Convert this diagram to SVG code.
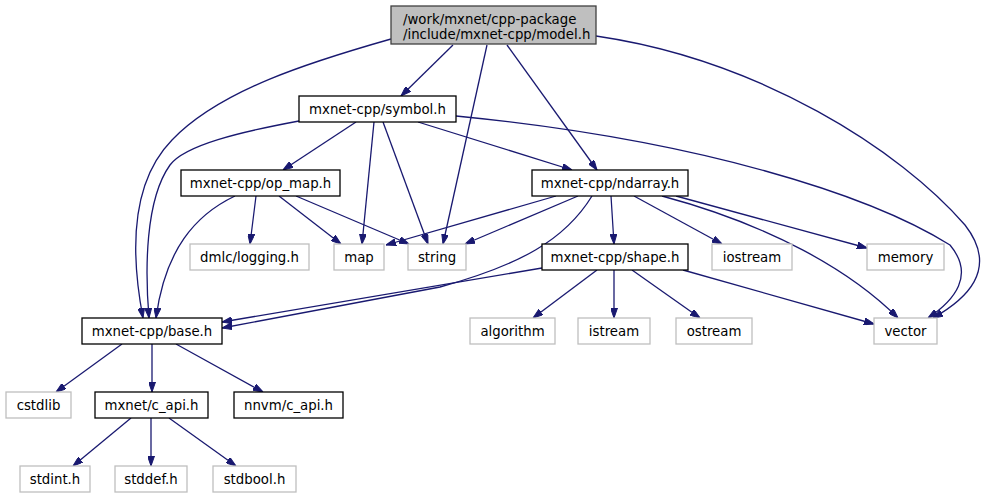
<svg xmlns="http://www.w3.org/2000/svg" width="988" height="500" viewBox="0 0 988 500">
<style>
text{font-family:"DejaVu Sans","Liberation Sans",sans-serif;font-size:13.3px;fill:#000;text-anchor:middle}
.n rect{fill:#fff;stroke:#000;stroke-width:1.3}
.x rect{fill:#fff;stroke:#bfbfbf;stroke-width:1.3}
.r rect{fill:#bfbfbf;stroke:#404040;stroke-width:1.3}
#edges path{fill:none;stroke:#191970;stroke-width:1.3;marker-end:url(#ah)}
</style>
<defs>
<marker id="ah" viewBox="0 0 10 7" refX="10" refY="3.5" markerWidth="10" markerHeight="7" markerUnits="userSpaceOnUse" orient="auto">
<path d="M0,0 L10,3.5 L0,7 z" fill="#191970" stroke="#191970"/>
</marker>
</defs>
<rect width="988" height="500" fill="#fff"/>
<g id="edges">
<path d="M453,45 L401,96"/>
<path d="M391,39 C310,62 220,90 172,140 C128,185 132,260 143,318"/>
<path d="M487,45 L443,244"/>
<path d="M507,45 L597,170"/>
<path d="M596,36 C760,60 900,150 965,225 C1000,270 965,300 933,318"/>
<path d="M299,121 C240,132 185,145 170,165 C145,200 145,270 149,318"/>
<path d="M356,122 L283,170"/>
<path d="M374,122 L362,244"/>
<path d="M383,122 L428,244"/>
<path d="M418,122 L572,170"/>
<path d="M456,116 C700,140 870,195 950,245 C975,275 955,300 928,318"/>
<path d="M235,196 C195,215 165,250 156,318"/>
<path d="M256,196 L250,244"/>
<path d="M279,196 L341,244"/>
<path d="M296,196 L409,244"/>
<path d="M592,196 C565,240 520,265 440,287 L222,328"/>
<path d="M556,196 L386,245"/>
<path d="M578,196 L465,244"/>
<path d="M611,196 L614,244"/>
<path d="M634,196 L722,244"/>
<path d="M676,196 L867,248"/>
<path d="M662,196 C770,225 850,270 898,318"/>
<path d="M542,268 L222,322"/>
<path d="M597,270 L533,318"/>
<path d="M614,270 L614,318"/>
<path d="M632,270 L700,318"/>
<path d="M683,270 L874,324"/>
<path d="M122,344 L56,392"/>
<path d="M152,344 L152,392"/>
<path d="M176,344 L263,392"/>
<path d="M131,418 L73,466"/>
<path d="M151,418 L151,466"/>
<path d="M169,418 L236,466"/>
</g>
<g id="model" class="r"><rect x="391" y="6" width="205" height="38"/><text x="403" y="24" style="text-anchor:start">/work/mxnet/cpp-package</text><text x="403" y="39" style="text-anchor:start">/include/mxnet-cpp/model.h</text></g>
<g id="symbol" class="n"><rect x="299" y="96" width="157" height="26"/><text x="377.5" y="113.5">mxnet-cpp/symbol.h</text></g>
<g id="op_map" class="n"><rect x="181" y="170" width="159" height="26"/><text x="260.5" y="187.5">mxnet-cpp/op_map.h</text></g>
<g id="ndarray" class="n"><rect x="532" y="170" width="156" height="26"/><text x="610" y="187.5">mxnet-cpp/ndarray.h</text></g>
<g id="dmlc_logging" class="x"><rect x="190" y="244" width="119" height="26"/><text x="249.5" y="261.5">dmlc/logging.h</text></g>
<g id="map" class="x"><rect x="334" y="244" width="50" height="26"/><text x="359" y="261.5">map</text></g>
<g id="string" class="x"><rect x="408" y="244" width="58" height="26"/><text x="437" y="261.5">string</text></g>
<g id="shape" class="n"><rect x="542" y="244" width="146" height="26"/><text x="615" y="261.5">mxnet-cpp/shape.h</text></g>
<g id="iostream" class="x"><rect x="712" y="244" width="80" height="26"/><text x="752" y="261.5">iostream</text></g>
<g id="memory" class="x"><rect x="867" y="244" width="77" height="26"/><text x="905.5" y="261.5">memory</text></g>
<g id="base" class="n"><rect x="82" y="318" width="140" height="26"/><text x="152" y="335.5">mxnet-cpp/base.h</text></g>
<g id="algorithm" class="x"><rect x="470" y="318" width="85" height="26"/><text x="512.5" y="335.5">algorithm</text></g>
<g id="istream" class="x"><rect x="578" y="318" width="72" height="26"/><text x="614" y="335.5">istream</text></g>
<g id="ostream" class="x"><rect x="676" y="318" width="76" height="26"/><text x="714" y="335.5">ostream</text></g>
<g id="vector" class="x"><rect x="874" y="318" width="63" height="26"/><text x="905.5" y="335.5">vector</text></g>
<g id="cstdlib" class="x"><rect x="6" y="392" width="65" height="26"/><text x="38.5" y="409.5">cstdlib</text></g>
<g id="mxnet_c_api" class="n"><rect x="95" y="392" width="113" height="26"/><text x="151.5" y="409.5">mxnet/c_api.h</text></g>
<g id="nnvm_c_api" class="n"><rect x="234" y="392" width="109" height="26"/><text x="288.5" y="409.5">nnvm/c_api.h</text></g>
<g id="stdint" class="x"><rect x="20" y="466" width="70" height="26"/><text x="55" y="483.5">stdint.h</text></g>
<g id="stddef" class="x"><rect x="115" y="466" width="72" height="26"/><text x="151" y="483.5">stddef.h</text></g>
<g id="stdbool" class="x"><rect x="213" y="466" width="83" height="26"/><text x="254.5" y="483.5">stdbool.h</text></g>
</svg>
